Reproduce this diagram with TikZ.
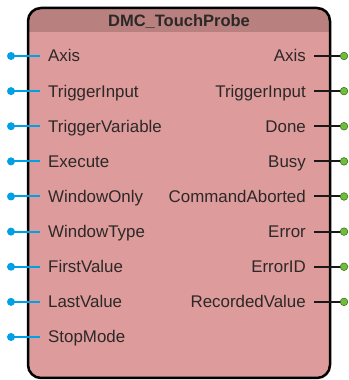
\documentclass[tikz,border=0pt]{standalone}
\usepackage{fontspec}
\setmainfont{Liberation Sans}
\usepackage{xcolor}
\usetikzlibrary{calc,positioning}

\definecolor{bodypink}{RGB}{222,155,155}
\definecolor{headpink}{RGB}{184,128,127}
\definecolor{pinblue}{RGB}{0,160,230}
\definecolor{pingreen}{RGB}{110,190,60}
\definecolor{labelgray}{RGB}{45,40,40}

\begin{document}
\begin{tikzpicture}[x=1pt, y=1pt,
    pinlabel/.style={font=\fontsize{16.9}{20}\selectfont, text=labelgray, inner sep=0pt},
    inpin/.style={line width=2pt, draw=pinblue},
    outpin/.style={line width=2pt, draw=black!90}]
    \useasboundingbox (0,0) rectangle (348,380);

    % Draw the block
    \begin{scope}
        \clip[rounded corners=13] (28,2) rectangle (330,372);
        \fill[bodypink] (28,2) rectangle (330,372);
        \fill[headpink] (28,348) rectangle (330,372);
    \end{scope}
    \draw[line width=2.5pt, rounded corners=13] (28,2) rectangle (330,372);
    \node[pinlabel, font=\fontsize{16.5}{20}\selectfont\bfseries, anchor=base] (title) at (179,353.5) {DMC\_TouchProbe};

    % Draw inputs
    \foreach \pin [count=\i] in {Axis,TriggerInput,TriggerVariable,Execute,WindowOnly,WindowType,FirstValue,LastValue,StopMode} {
        \pgfmathsetmacro{\py}{380-56-(\i-1)*35.125}
        \coordinate (indot\i) at (11,\py);
        \coordinate (inend\i) at (40,\py);
        \node[pinlabel, anchor=base west] (in\i) at (48,\py-6) {\pin};
        \draw[inpin] (indot\i) -- (inend\i);
        \fill[pinblue] (indot\i) circle (4);
    }

    % Draw outputs
    \foreach \pin [count=\i] in {Axis,TriggerInput,Done,Busy,CommandAborted,Error,ErrorID,RecordedValue} {
        \pgfmathsetmacro{\py}{380-56-(\i-1)*35.125}
        \coordinate (outend\i) at (314,\py);
        \coordinate (outdot\i) at (344,\py);
        \node[pinlabel, anchor=base east] (out\i) at (306,\py-6) {\pin};
        \draw[outpin] (outend\i) -- (outdot\i);
        \filldraw[fill=pingreen, draw=pingreen!60!black, line width=0.6pt] (outdot\i) circle (3.8);
    }
\end{tikzpicture}
\end{document}
